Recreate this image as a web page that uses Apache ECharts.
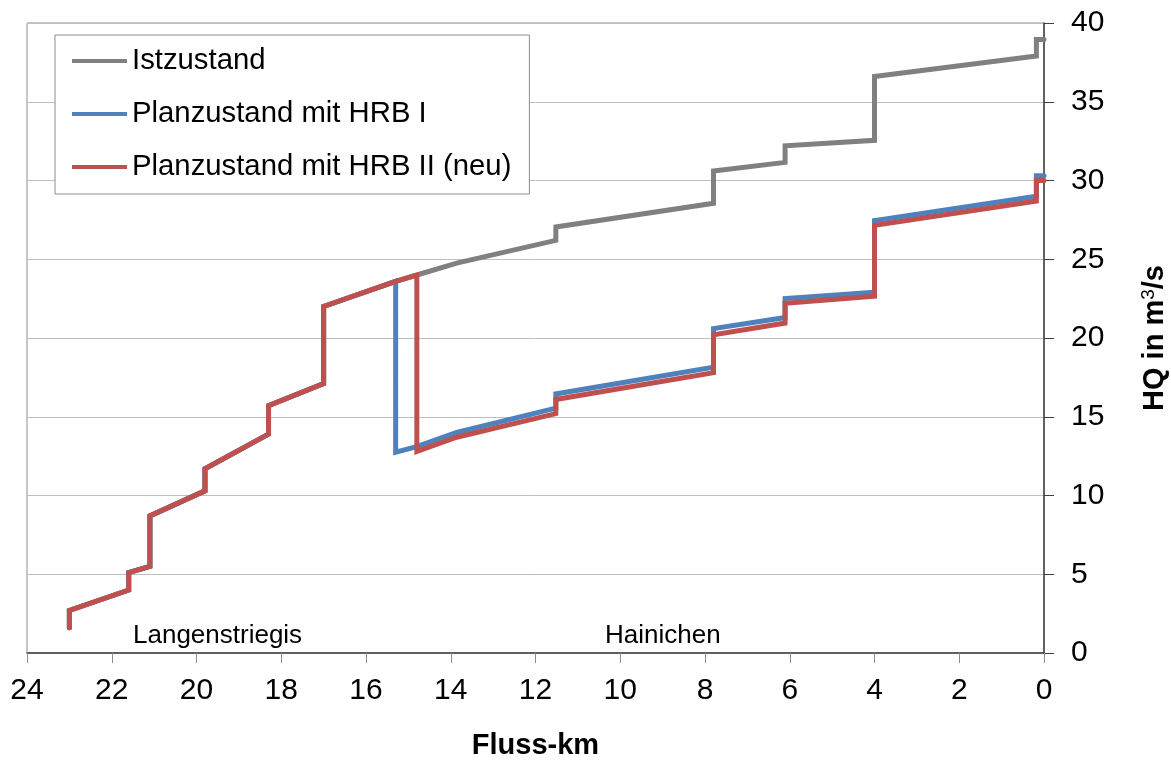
<!DOCTYPE html>
<html>
<head>
<meta charset="utf-8">
<script src="https://cdn.jsdelivr.net/npm/echarts@6/dist/echarts.min.js"></script>
<style>
html,body{margin:0;padding:0;background:#fff;}
#c{width:1171px;height:762px;}
</style>
</head>
<body>
<div id="c"></div>
<script>
// Fluss-km positions and HQ values (m³/s)
var seriesNames = ['Istzustand', 'Planzustand mit HRB I', 'Planzustand mit HRB II (neu)'];

var istKm  = [23, 23, 21.6, 21.6, 21.1, 21.1, 19.8, 19.8, 18.3, 18.3, 17.0, 17.0, 15.3, 14.8, 13.86, 11.52, 11.52, 7.8, 7.8, 6.11, 6.11, 4.0, 4.0, 0.18, 0.18, 0];
var istHQ  = [1.6, 2.7, 4.0, 5.1, 5.5, 8.7, 10.3, 11.7, 13.9, 15.7, 17.1, 22.0, 23.6, 24.0, 24.75, 26.2, 27.05, 28.55, 30.6, 31.15, 32.2, 32.55, 36.6, 37.9, 38.95, 38.95];

var hrb1Km = [23, 23, 21.6, 21.6, 21.1, 21.1, 19.8, 19.8, 18.3, 18.3, 17.0, 17.0, 15.3, 15.3, 14.8, 13.86, 11.52, 11.52, 7.8, 7.8, 6.11, 6.11, 4.0, 4.0, 0.18, 0.18, 0];
var hrb1HQ = [1.6, 2.7, 4.0, 5.1, 5.5, 8.7, 10.3, 11.7, 13.9, 15.7, 17.1, 22.0, 23.6, 12.75, 13.1, 14.0, 15.55, 16.45, 18.15, 20.6, 21.3, 22.5, 22.9, 27.45, 29.0, 30.3, 30.3];

var hrb2Km = [23, 23, 21.6, 21.6, 21.1, 21.1, 19.8, 19.8, 18.3, 18.3, 17.0, 17.0, 15.3, 14.8, 14.8, 13.86, 11.52, 11.52, 7.8, 7.8, 6.11, 6.11, 4.0, 4.0, 0.18, 0.18, 0];
var hrb2HQ = [1.6, 2.7, 4.0, 5.1, 5.5, 8.7, 10.3, 11.7, 13.9, 15.7, 17.1, 22.0, 23.6, 24.0, 12.8, 13.7, 15.2, 16.1, 17.8, 20.2, 20.95, 22.2, 22.65, 27.15, 28.7, 30.0, 30.0];

var placeLabels = ['Langenstriegis', 'Hainichen'];

function pairs(xs, ys) { return xs.map(function (x, i) { return [x, ys[i]]; }); }

var FONT = '"Liberation Sans", Arial, Helvetica, sans-serif';
var colors = ['#808080', '#4F81BD', '#C0504D'];
var chart = echarts.init(document.getElementById('c'), null, {renderer: 'canvas'});

function lineSeries(name, data, color) {
  return {
    name: name, type: 'line', data: data, symbol: 'none', smooth: false,
    lineStyle: {color: color, width: 5, cap: 'round', join: 'miter'},
    itemStyle: {color: color},
    emphasis: {disabled: true}, animation: false
  };
}

chart.setOption({
  animation: false,
  backgroundColor: '#fff',
  textStyle: {fontFamily: FONT, color: '#000'},
  grid: {left: 27, right: 127, top: 23, bottom: 109, outerBoundsMode: 'none', containLabel: false,
    show: true, borderColor: '#8c8c8c', borderWidth: 1, backgroundColor: 'transparent'},
  legend: {
    orient: 'vertical', left: 55, top: 35,
    data: seriesNames,
    icon: 'path://M0,0H55V4H0Z', symbolKeepAspect: true,
    itemWidth: 55, itemHeight: 24, itemGap: 23,
    padding: [11, 18, 12, 17],
    backgroundColor: '#fff', borderColor: '#8c8c8c', borderWidth: 1, borderRadius: 0,
    textStyle: {fontFamily: FONT, fontSize: 29.3, color: '#000', lineHeight: 30},
    selectedMode: false
  },
  xAxis: {
    type: 'value', inverse: true, min: 0, max: 24, interval: 2,
    name: 'Fluss-km', nameLocation: 'middle', nameGap: 78,
    nameTextStyle: {fontFamily: FONT, fontSize: 29, fontWeight: 'bold', color: '#000'},
    axisLine: {show: true, onZero: false, lineStyle: {color: '#404040', width: 1.5}},
    axisTick: {show: true, length: 10, lineStyle: {color: '#8c8c8c'}},
    axisLabel: {fontFamily: FONT, fontSize: 30, color: '#000', margin: 23},
    splitLine: {show: false}
  },
  yAxis: {
    type: 'value', position: 'right', min: 0, max: 40, interval: 5,
    name: 'HQ in m{sup|3}/s', nameLocation: 'middle', nameGap: 95, nameRotate: 90,
    nameTextStyle: {fontFamily: FONT, fontSize: 29, fontWeight: 'bold', color: '#000',
      rich: {sup: {fontFamily: FONT, fontSize: 19, fontWeight: 'normal', color: '#000', verticalAlign: 'top', padding: [0, 0, 12, 0]}}},
    axisLine: {show: true, onZero: false, lineStyle: {color: '#404040', width: 1.5}},
    axisTick: {show: true, length: 10, lineStyle: {color: '#404040'}},
    axisLabel: {fontFamily: FONT, fontSize: 30, color: '#000', margin: 27},
    splitLine: {show: true, lineStyle: {color: '#BFBFBF', width: 1}}
  },
  graphic: [
    {type: 'text', left: 133, top: 623, silent: true,
      style: {text: placeLabels[0], font: '26px ' + FONT, fill: '#000'}},
    {type: 'text', left: 605, top: 623, silent: true,
      style: {text: placeLabels[1], font: '26px ' + FONT, fill: '#000'}}
  ],
  series: [
    lineSeries(seriesNames[0], pairs(istKm, istHQ), colors[0]),
    lineSeries(seriesNames[1], pairs(hrb1Km, hrb1HQ), colors[1]),
    lineSeries(seriesNames[2], pairs(hrb2Km, hrb2HQ), colors[2])
  ]
});
</script>
</body>
</html>
